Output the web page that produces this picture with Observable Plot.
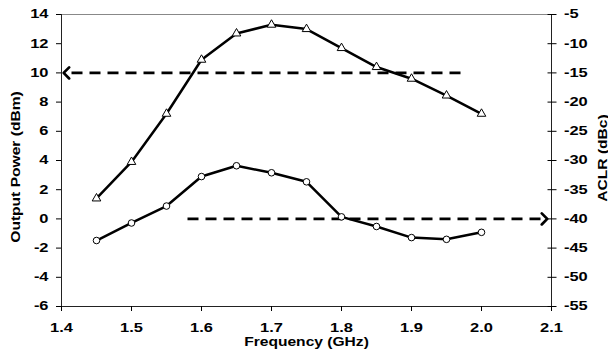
<!DOCTYPE html>
<html><head><meta charset="utf-8">
<script src="https://cdn.jsdelivr.net/npm/d3@7"></script>
<script src="https://cdn.jsdelivr.net/npm/@observablehq/plot@0.6"></script>
<style>body{margin:0;background:#fff}</style>
</head><body><div id="chart"></div>
<script>
// Frequency (GHz)
const freq = [1.45, 1.5, 1.55, 1.6, 1.65, 1.7, 1.75, 1.8, 1.85, 1.9, 1.95, 2.0];
// Output power (dBm), left axis, triangles
const outputPower = [1.4, 3.9, 7.2, 10.9, 12.7, 13.3, 13.0, 11.7, 10.4, 9.6, 8.45, 7.2];
// ACLR (dBc), right axis, circles
const aclr = [-43.7, -40.7, -37.8, -32.75, -30.9, -32.1, -33.65, -39.65, -41.3, -43.2, -43.5, -42.3];
// Tick values
const xTicks = [1.4, 1.5, 1.6, 1.7, 1.8, 1.9, 2.0, 2.1];
const powerTicks = [-6, -4, -2, 0, 2, 4, 6, 8, 10, 12, 14];
const aclrTicks = [-5, -10, -15, -20, -25, -30, -35, -40, -45, -50, -55];
// Dashed guide arrows: [output power 10 dBm -> left axis, ACLR -40 dBc -> right axis]
const guideFrom = [1.97, 1.58];
const guideTo = [1.407, 2.09];
const guideLevel = [10, -40];
const guideAxis = ["power", "aclr"];

// right axis (dBc) mapped onto left axis (dBm): -5 dBc <-> 14 dBm, -55 dBc <-> -6 dBm
const toLeft = v => (v + 40) / 2.5;
const fromLeft = v => Math.round(v * 2.5 - 40);

const guides = guideFrom.map((f, i) => ({
  x1: f, x2: guideTo[i],
  y: guideAxis[i] === "power" ? guideLevel[i] : toLeft(guideLevel[i])
}));

const chart = Plot.plot({
  width: 608, height: 349,
  marginLeft: 61, marginRight: 57, marginTop: 14, marginBottom: 43,
  style: {fontFamily: '"Liberation Sans", Arial, sans-serif', fontWeight: "bold", fontSize: "12px", color: "black", background: "white"},
  x: {domain: [1.4, 2.1]},
  y: {domain: [-6, 14]},
  marks: [
    Plot.ruleY([14], {stroke: "#888", strokeWidth: 1}),
    Plot.ruleX([1.4], {stroke: "#222", strokeWidth: 1}),
    Plot.ruleX([2.1], {stroke: "#222", strokeWidth: 1}),
    Plot.ruleY([-6], {stroke: "#222", strokeWidth: 1}),
    Plot.axisX({ticks: xTicks, tickSize: 5, tickPadding: 12, tickFormat: d => d.toFixed(1), label: null}),
    Plot.axisY({anchor: "left", ticks: powerTicks, tickSize: 5, tickPadding: 8, tickFormat: d => String(d), label: null}),
    Plot.axisY({anchor: "right", ticks: aclrTicks.map(toLeft), tickSize: 9, dx: -4.5, tickPadding: 8, tickFormat: d => String(fromLeft(d)), label: null}),
    Plot.link(guides, {x1: "x1", x2: "x2", y1: "y", y2: "y", stroke: "black", strokeWidth: 2.75, strokeDasharray: "11,7", markerEnd: "arrow"}),
    Plot.line(freq, {x: freq, y: outputPower, stroke: "black", strokeWidth: 2.5}),
    Plot.line(freq, {x: freq, y: aclr.map(toLeft), stroke: "black", strokeWidth: 2.5}),
    Plot.dot(freq, {x: freq, y: outputPower, symbol: "triangle", r: 3.2, fill: "white", stroke: "black", strokeWidth: 1}),
    Plot.dot(freq, {x: freq, y: aclr.map(toLeft), symbol: "circle", r: 3.3, fill: "white", stroke: "black", strokeWidth: 1}),
    Plot.text(["Frequency (GHz)"], {frameAnchor: "bottom", lineAnchor: "middle", textAnchor: "middle", dy: 35, text: d => d, fontSize: 13, fontWeight: "bold"}),
    Plot.text(["Output Power (dBm)"], {frameAnchor: "left", lineAnchor: "middle", textAnchor: "middle", rotate: -90, dx: -46, dy: 6.5, text: d => d, fontSize: 13, fontWeight: "bold"}),
    Plot.text(["ACLR (dBc)"], {frameAnchor: "right", lineAnchor: "middle", textAnchor: "middle", rotate: -90, dx: 51, dy: -2.5, text: d => d, fontSize: 13, fontWeight: "bold"})
  ]
});

// the reference's text is horizontally stretched
chart.querySelectorAll("text").forEach(t => {
  const s = t.textContent.length > 5 ? 1.2 : 1.37;
  const x = +(t.getAttribute("x") || 0);
  const tr = t.getAttribute("transform") || "";
  t.setAttribute("transform", `${tr} translate(${x},0) scale(${s},1) translate(${-x},0)`);
});

document.getElementById("chart").appendChild(chart);
</script>
</body></html>
